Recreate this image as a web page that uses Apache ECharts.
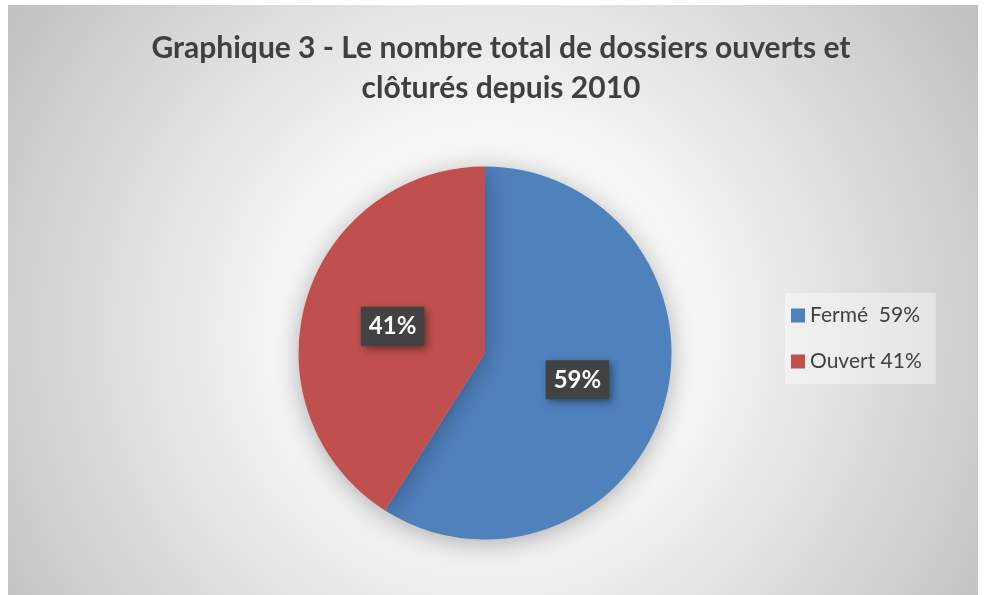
<!DOCTYPE html>
<html>
<head>
    <meta charset="utf-8">
    <title>Graphique 3</title>
    <script src="https://cdn.jsdelivr.net/npm/echarts@6/dist/echarts.min.js"></script>
    <style>
        html, body { margin: 0; padding: 0; background: #fff; }
        #chart { width: 985px; height: 595px; }
    </style>
</head>
<body>
<div id="chart"></div>
<script>
    // données
    var categories = ['Fermé', 'Ouvert'];
    var values = [59, 41];
    var legendLabels = ['Fermé  59%', 'Ouvert 41%'];
    var colors = ['#4F81BD', '#C0504D'];

    var chart = echarts.init(document.getElementById('chart'));

    var pieData = [];
    for (var i = 0; i < categories.length; i++) {
        pieData.push({ name: categories[i], value: values[i], itemStyle: { color: colors[i] } });
    }

    var option = {
        animation: false,
        graphic: [{
            type: 'rect',
            z: -10,
            silent: true,
            shape: { x: 8, y: 5, width: 970, height: 600 },
            style: {
                fill: {
                    type: 'radial', x: 490, y: 330, r: 590, global: true,
                    colorStops: [
                        { offset: 0, color: '#ffffff' },
                        { offset: 0.35, color: '#f6f6f6' },
                        { offset: 1, color: '#bfbfbf' }
                    ]
                }
            }
        }],
        title: {
            text: 'Graphique 3 - Le nombre total de dossiers ouverts et\nclôturés depuis 2010',
            left: 496,
            top: 23,
            textAlign: 'center',
            textStyle: {
                fontFamily: 'Lato',
                fontSize: 30,
                fontWeight: 'bold',
                color: '#404040',
                lineHeight: 40
            }
        },
        legend: {
            orient: 'vertical',
            left: 785,
            top: 293,
            padding: [12, 14, 12, 6],
            backgroundColor: 'rgba(255,255,255,0.4)',
            itemWidth: 14,
            itemHeight: 14,
            itemGap: 25,
            icon: 'rect',
            data: categories,
            formatter: function (name) {
                return legendLabels[categories.indexOf(name)];
            },
            textStyle: {
                fontFamily: 'Lato',
                fontSize: 21,
                color: '#404040'
            }
        },
        series: [{
            type: 'pie',
            center: [485, 353],
            radius: 186.5,
            startAngle: 90,
            clockwise: true,
            data: pieData,
            itemStyle: {
                shadowBlur: 25,
                shadowColor: 'rgba(0,0,0,0.3)',
                shadowOffsetY: 4
            },
            label: {
                position: 'inside',
                formatter: '{c}%',
                fontFamily: 'Lato',
                fontSize: 24,
                fontWeight: 'bold',
                color: '#ffffff',
                backgroundColor: '#424242',
                padding: [8, 8, 7, 8],
                shadowBlur: 8,
                shadowColor: 'rgba(0,0,0,0.45)',
                shadowOffsetX: 3,
                shadowOffsetY: 3
            },
            labelLine: { show: false },
            emphasis: { disabled: true }
        }]
    };

    chart.setOption(option);
</script>
</body>
</html>
